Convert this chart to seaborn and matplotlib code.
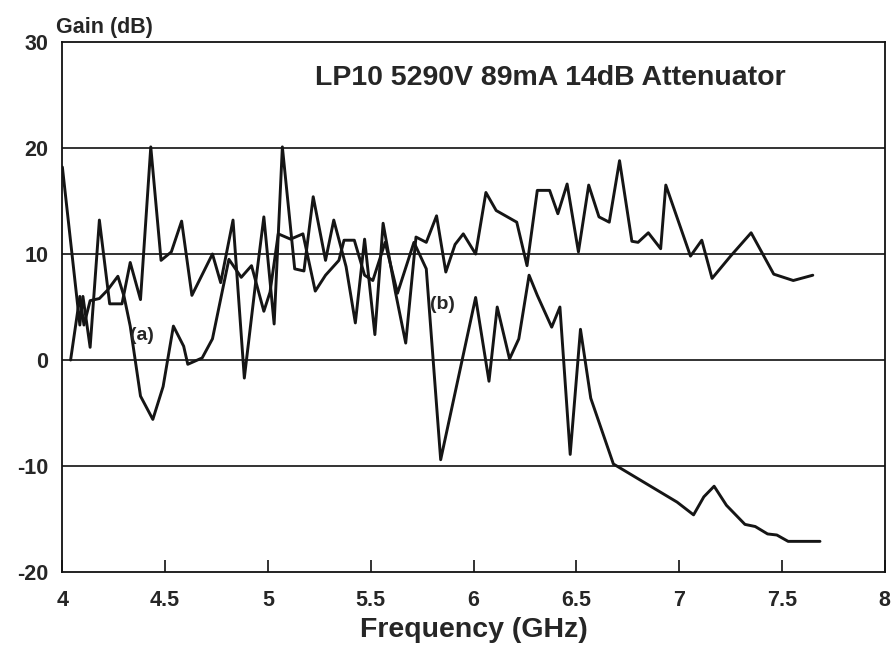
import matplotlib
matplotlib.use("Agg")
import matplotlib.pyplot as plt
import seaborn as sns
import pandas as pd

# ---- data ----
freq_a = [4.00, 4.085, 4.10, 4.135, 4.18, 4.23, 4.29, 4.33, 4.38, 4.43, 4.48, 4.53,
          4.58, 4.63, 4.73, 4.77, 4.83, 4.885, 4.94, 4.98, 5.03, 5.07, 5.13, 5.175,
          5.22, 5.28, 5.32, 5.38, 5.425, 5.47, 5.52, 5.56, 5.62, 5.67, 5.72, 5.77,
          5.82, 5.865, 5.91, 5.95, 6.01, 6.06, 6.11, 6.21, 6.26, 6.31, 6.37, 6.41,
          6.455, 6.51, 6.56, 6.61, 6.66, 6.71, 6.77, 6.80, 6.85, 6.91, 6.935, 7.055,
          7.11, 7.16, 7.25, 7.35, 7.46, 7.555, 7.65]
gain_a = [18.2, 3.3, 6.0, 1.2, 13.2, 5.3, 5.3, 9.2, 5.7, 20.1, 9.4, 10.2,
          13.1, 6.1, 10.0, 7.3, 13.2, -1.7, 7.3, 13.5, 3.4, 20.1, 8.6, 8.4,
          15.4, 9.4, 13.2, 8.8, 3.5, 11.4, 2.4, 12.9, 6.4, 1.6, 11.6, 11.1,
          13.6, 8.3, 10.9, 11.9, 10.0, 15.8, 14.1, 13.0, 8.9, 16.0, 16.0, 13.8,
          16.6, 10.2, 16.5, 13.5, 13.0, 18.8, 11.2, 11.1, 12.0, 10.5, 16.5, 9.8,
          11.3, 7.7, 9.8, 12.0, 8.1, 7.5, 8.0]

freq_b = [4.04, 4.085, 4.105, 4.135, 4.18, 4.22, 4.27, 4.30, 4.33, 4.38, 4.44, 4.49,
          4.54, 4.59, 4.61, 4.68, 4.73, 4.78, 4.81, 4.87, 4.92, 4.98, 5.01, 5.05,
          5.11, 5.17, 5.23, 5.28, 5.345, 5.37, 5.42, 5.47, 5.51, 5.57, 5.63, 5.71,
          5.77, 5.84, 6.01, 6.075, 6.115, 6.175, 6.22, 6.27, 6.31, 6.38, 6.42, 6.47,
          6.52, 6.57, 6.68, 6.99, 7.07, 7.12, 7.17, 7.23, 7.32, 7.37, 7.43,
          7.475, 7.53, 7.685]
gain_b = [0.0, 6.0, 3.3, 5.6, 5.8, 6.6, 7.9, 6.0, 3.2, -3.4, -5.6, -2.5,
          3.2, 1.3, -0.4, 0.2, 2.0, 6.7, 9.5, 7.8, 8.9, 4.6, 6.4, 11.9,
          11.4, 11.9, 6.5, 8.0, 9.4, 11.3, 11.3, 8.0, 7.5, 11.1, 6.3, 11.1,
          8.6, -9.4, 5.9, -2.0, 5.0, 0.1, 2.0, 8.0, 6.1, 3.1, 5.0, -8.9,
          2.9, -3.6, -9.8, -13.4, -14.6, -12.9, -11.9, -13.7, -15.5, -15.7, -16.4,
          -16.5, -17.1, -17.1]

x_ticks = [4, 4.5, 5, 5.5, 6, 6.5, 7, 7.5, 8]
x_tick_labels = ["4", "4.5", "5", "5.5", "6", "6.5", "7", "7.5", "8"]
y_ticks = [-20, -10, 0, 10, 20, 30]
y_tick_labels = ["-20", "-10", "0", "10", "20", "30"]

title = "LP10 5290V 89mA 14dB Attenuator"
x_label = "Frequency (GHz)"
y_label = "Gain (dB)"

# ---- plot ----
sns.set_theme(style="white")
plt.rcParams["font.family"] = ["Liberation Sans", "DejaVu Sans"]
plt.rcParams["axes.unicode_minus"] = False

fig = plt.figure(figsize=(8.91, 6.45), dpi=100)
ax = fig.add_axes([0.070, 0.113, 0.923, 0.822])

df_a = pd.DataFrame({"f": freq_a, "g": gain_a})
df_b = pd.DataFrame({"f": freq_b, "g": gain_b})
line_color = "#151515"
sns.lineplot(data=df_a, x="f", y="g", ax=ax, sort=False, estimator=None,
             color=line_color, linewidth=2.1)
sns.lineplot(data=df_b, x="f", y="g", ax=ax, sort=False, estimator=None,
             color=line_color, linewidth=2.1)

ax.set_xlim(4, 8)
ax.set_ylim(-20, 30)
for yv in [-10, 0, 10, 20]:
    ax.axhline(yv, color="#111111", linewidth=1.2, zorder=0)

ax.set_xticks(x_ticks)
ax.set_xticklabels(x_tick_labels, fontsize=15.5, fontweight="bold")
ax.set_yticks(y_ticks)
ax.set_yticklabels(y_tick_labels, fontsize=15.5, fontweight="bold")
ax.tick_params(axis="x", direction="in", length=9, width=1.2, color="#111111",
               pad=13, bottom=True)
ax.tick_params(axis="y", length=0, pad=10)
for s in ax.spines.values():
    s.set_color("#111111")
    s.set_linewidth(1.3)

ax.set_xlabel(x_label, fontsize=20.5, fontweight="bold", labelpad=4)
ax.set_ylabel("")
ax.text(-0.008, 1.008, y_label, transform=ax.transAxes, fontsize=15.5,
        fontweight="bold", ha="left", va="bottom")
ax.text(0.593, 0.932, title, transform=ax.transAxes, fontsize=20.5,
        fontweight="bold", ha="center", va="center")
ax.text(4.385, 2.3, "(a)", fontsize=14, fontweight="bold", ha="center", va="center")
ax.text(5.85, 5.2, "(b)", fontsize=14, fontweight="bold", ha="center", va="center")

fig.savefig("out.png", dpi=100)
